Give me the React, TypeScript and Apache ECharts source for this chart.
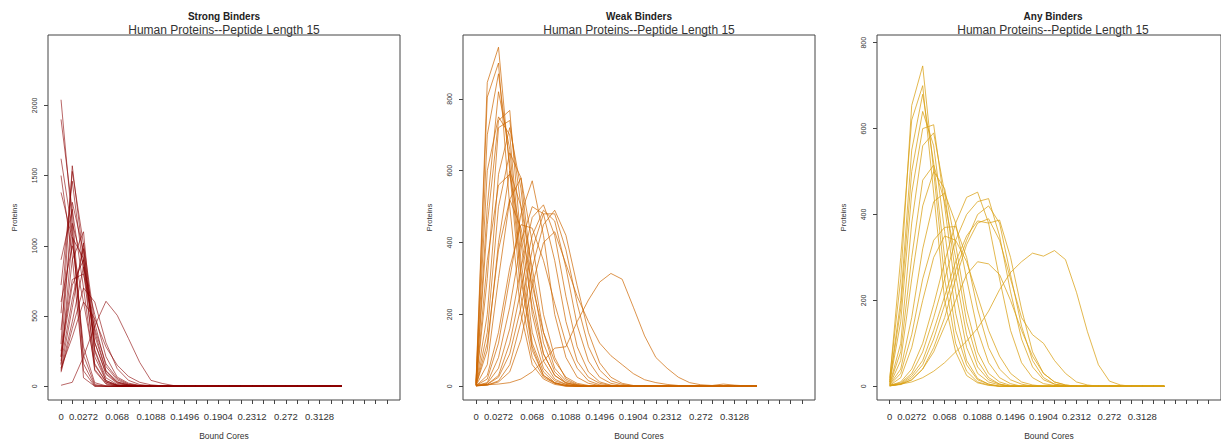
import React, { useEffect, useRef } from "react";
import * as echarts from "echarts";

// x axis: index positions of ticks and of labelled ticks (step 0.0136 per tick)
const X_TICKS = [0,1,2,3,4,5,6,7,8,9,10,11,12,13,14,15,16,17,18,19,20,21,22,23,24,25,26,27,28,29];
const X_LABEL_POS = [0, 2, 5, 8, 11, 14, 17, 20, 23];
const X_LABELS = ["0", "0.0272", "0.068", "0.1088", "0.1496", "0.1904", "0.2312", "0.272", "0.3128"];

const STRONG_Y_TICKS = [0, 500, 1000, 1500, 2000];
const WEAK_Y_TICKS = [0, 200, 400, 600, 800];
const ANY_Y_TICKS = [0, 200, 400, 600, 800];

const STRONG = [
  [2040,1150,60,0,0,0,0,0,0,0,0,0,0,0,0,0,0,0,0,0,0,0,0,0,0,0],
  [1900,1250,160,5,0,0,0,0,0,0,0,0,0,0,0,0,0,0,0,0,0,0,0,0,0,0],
  [1620,1100,220,12,0,0,0,0,0,0,0,0,0,0,0,0,0,0,0,0,0,0,0,0,0,0],
  [1500,920,110,0,0,0,0,0,0,0,0,0,0,0,0,0,0,0,0,0,0,0,0,0,0,0],
  [1380,1050,280,25,3,0,0,0,0,0,0,0,0,0,0,0,0,0,0,0,0,0,0,0,0,0],
  [300,1570,900,120,20,4,0,0,0,0,0,0,0,0,0,0,0,0,0,0,0,0,0,0,0,0],
  [520,1530,1010,210,40,8,0,0,0,0,0,0,0,0,0,0,0,0,0,0,0,0,0,0,0,0],
  [720,1460,820,160,30,5,0,0,0,0,0,0,0,0,0,0,0,0,0,0,0,0,0,0,0,0],
  [210,1310,960,260,60,12,3,0,0,0,0,0,0,0,0,0,0,0,0,0,0,0,0,0,0,0],
  [900,1260,700,110,15,0,0,0,0,0,0,0,0,0,0,0,0,0,0,0,0,0,0,0,0,0],
  [400,1160,860,310,85,20,5,0,0,0,0,0,0,0,0,0,0,0,0,0,0,0,0,0,0,0],
  [150,1060,910,360,110,30,10,2,0,0,0,0,0,0,0,0,0,0,0,0,0,0,0,0,0,0],
  [600,1000,600,150,30,6,0,0,0,0,0,0,0,0,0,0,0,0,0,0,0,0,0,0,0,0],
  [120,560,1020,450,140,45,12,3,0,0,0,0,0,0,0,0,0,0,0,0,0,0,0,0,0,0],
  [160,620,980,390,110,32,8,0,0,0,0,0,0,0,0,0,0,0,0,0,0,0,0,0,0,0],
  [210,720,900,310,95,25,6,0,0,0,0,0,0,0,0,0,0,0,0,0,0,0,0,0,0,0],
  [110,460,850,510,210,65,22,6,0,0,0,0,0,0,0,0,0,0,0,0,0,0,0,0,0,0],
  [250,760,800,410,160,55,16,4,0,0,0,0,0,0,0,0,0,0,0,0,0,0,0,0,0,0],
  [100,410,700,600,310,125,42,12,3,0,0,0,0,0,0,0,0,0,0,0,0,0,0,0,0,0],
  [180,900,1100,250,40,8,0,0,0,0,0,0,0,0,0,0,0,0,0,0,0,0,0,0,0,0],
  [130,350,600,480,280,150,70,28,10,3,0,0,0,0,0,0,0,0,0,0,0,0,0,0,0,0],
  [7,28,210,430,605,505,340,170,42,20,5,2,0,0,0,0,0,0,3,5,2,0,0,0,0,0],
];

const WEAK = [
  [15,846,944,600,250,80,25,8,2,0,0,0,0,0,0,0,0,0,0,0,0,0,0,0,0,0],
  [10,805,900,500,200,60,20,5,0,0,0,0,0,0,0,0,0,0,0,0,0,0,0,0,0,0],
  [8,700,870,620,300,100,30,10,2,0,0,0,0,0,0,0,0,0,0,0,0,0,0,0,0,0],
  [5,450,740,768,400,150,50,15,5,0,0,0,0,0,0,0,0,0,0,0,0,0,0,0,0,0],
  [5,300,720,740,500,200,70,20,5,0,0,0,0,0,0,0,0,0,0,0,0,0,0,0,0,0],
  [10,600,750,700,350,120,40,10,2,0,0,0,0,0,0,0,0,0,0,0,0,0,0,0,0,0],
  [5,200,590,720,550,250,90,30,10,2,0,0,0,0,0,0,0,0,0,0,0,0,0,0,0,0],
  [3,150,500,650,580,300,120,40,10,3,0,0,0,0,0,0,0,0,0,0,0,0,0,0,0,0],
  [3,100,400,600,500,330,150,50,15,4,0,0,0,0,0,0,0,0,0,0,0,0,0,0,0,0],
  [2,60,300,520,580,400,200,80,20,5,0,0,0,0,0,0,0,0,0,0,0,0,0,0,0,0],
  [2,20,120,300,480,572,420,200,80,25,8,2,0,0,0,0,0,0,0,0,0,0,0,0,0,0],
  [2,10,80,220,400,500,480,350,180,70,25,8,2,0,0,0,0,0,0,0,0,0,0,0,0,0],
  [1,8,50,160,330,470,505,420,250,110,40,12,3,0,0,0,0,0,0,0,0,0,0,0,0,0],
  [1,5,30,120,270,420,490,460,330,170,70,25,8,2,0,0,0,0,0,0,0,0,0,0,0,0],
  [1,5,25,90,220,380,480,480,380,230,110,45,15,5,1,0,0,0,0,0,0,0,0,0,0,0],
  [1,3,15,60,180,330,450,490,420,280,150,65,25,8,2,0,0,0,0,0,0,0,0,0,0,0],
  [1,3,12,40,130,280,400,430,340,250,180,120,85,60,35,18,10,5,2,0,0,0,0,0,0,0],
  [3,4,6,10,20,40,70,106,110,180,240,290,314,298,220,140,80,50,25,10,4,2,6,3,1,0],
  [4,350,560,590,420,220,90,30,8,2,0,0,0,0,0,0,0,0,0,0,0,0,0,0,0,0],
  [2,120,380,520,440,280,150,70,25,8,2,0,0,0,0,0,0,0,0,0,0,0,0,0,0,0],
  [1,30,150,330,450,440,350,230,120,50,15,4,0,0,0,0,0,0,0,0,0,0,0,0,0,0],
  [2,500,820,660,320,110,30,8,0,0,0,0,0,0,0,0,0,0,0,0,0,0,0,0,0,0],
];

const ANY = [
  [20,250,654,746,500,250,100,35,10,3,0,0,0,0,0,0,0,0,0,0,0,0,0,0,0,0],
  [15,300,620,700,450,200,80,25,8,2,0,0,0,0,0,0,0,0,0,0,0,0,0,0,0,0],
  [10,200,550,680,520,300,130,50,15,5,0,0,0,0,0,0,0,0,0,0,0,0,0,0,0,0],
  [8,150,450,600,609,420,220,90,30,10,3,0,0,0,0,0,0,0,0,0,0,0,0,0,0,0],
  [5,100,380,560,590,450,260,120,45,15,5,0,0,0,0,0,0,0,0,0,0,0,0,0,0,0],
  [5,80,300,480,515,430,300,150,60,20,5,0,0,0,0,0,0,0,0,0,0,0,0,0,0,0],
  [3,60,250,420,500,460,330,180,80,30,10,2,0,0,0,0,0,0,0,0,0,0,0,0,0,0],
  [3,30,120,250,340,370,372,300,180,90,40,15,5,0,0,0,0,0,0,0,0,0,0,0,0,0],
  [2,20,90,200,300,350,340,290,210,130,70,30,10,3,0,0,0,0,0,0,0,0,0,0,0,0],
  [2,10,40,100,190,290,380,440,452,380,250,130,55,20,6,2,0,0,0,0,0,0,0,0,0,0],
  [2,8,30,80,160,250,340,400,430,437,350,220,110,45,15,5,1,0,0,0,0,0,0,0,0,0],
  [1,6,25,60,130,210,290,350,385,380,387,300,180,80,30,10,3,0,0,0,0,0,0,0,0,0],
  [1,5,20,50,110,190,270,340,400,420,380,260,140,60,20,5,1,0,0,0,0,0,0,0,0,0],
  [1,4,15,40,90,160,250,330,380,390,340,250,160,120,100,60,30,10,3,0,0,0,0,0,0,0],
  [1,5,15,40,80,140,200,260,290,285,260,200,130,70,30,10,3,0,0,0,0,0,0,0,0,0],
  [2,5,10,20,35,55,80,105,135,175,225,265,290,310,303,316,295,219,127,50,12,3,0,0,0,0],
  [10,180,500,640,560,360,170,60,18,5,0,0,0,0,0,0,0,0,0,0,0,0,0,0,0,0],
  [4,40,160,320,430,450,380,250,130,55,20,6,0,0,0,0,0,0,0,0,0,0,0,0,0,0],
];

const TITLES = ["Strong Binders", "Weak Binders", "Any Binders"];
const SUBTITLE = "Human Proteins--Peptide Length 15";
const X_NAME = "Bound Cores";
const Y_NAME = "Proteins";

const FONT = "'Liberation Sans', Arial, sans-serif";

const PANELS = [
  { title: TITLES[0], lines: STRONG, color: "rgba(139,0,0,0.6)", left: 48, yMin: -98, yMax: 2501, yTicks: STRONG_Y_TICKS },
  { title: TITLES[1], lines: WEAK, color: "rgba(205,102,0,0.7)", left: 463, yMin: -38.4, yMax: 978, yTicks: WEAK_Y_TICKS },
  { title: TITLES[2], lines: ANY, color: "rgba(218,160,20,0.75)", left: 877, yMin: -32, yMax: 818, yTicks: ANY_Y_TICKS },
];

const BOX_TOP = 35;
const BOX_W = 352;
const BOX_H = 371;

export default function App() {
  const ref = useRef<HTMLDivElement>(null);
  useEffect(() => {
    document.body.style.margin = "0";
    const chart = echarts.init(ref.current!, null, { renderer: "svg" });
    const grid: any[] = [];
    const xAxis: any[] = [];
    const yAxis: any[] = [];
    const series: any[] = [];
    const graphic: any[] = [];
    PANELS.forEach((p, k) => {
      grid.push({
        left: p.left, top: BOX_TOP, width: BOX_W, height: BOX_H,
        show: true, borderColor: "#444", borderWidth: 1, backgroundColor: "transparent",
      });
      xAxis.push({
        gridIndex: k, type: "value", min: -1.16, max: 30.16,
        axisLine: { show: false, onZero: false },
        splitLine: { show: false },
        axisTick: { show: true, length: 4, customValues: X_TICKS, lineStyle: { color: "#444" } },
        axisLabel: {
          customValues: X_LABEL_POS,
          formatter: (v: number) => {
            const i = X_LABEL_POS.indexOf(Math.round(v));
            return i >= 0 ? X_LABELS[i] : "";
          },
          fontSize: 9.5, color: "#333", margin: 11, fontFamily: FONT,
        },
        name: X_NAME, nameLocation: "middle", nameGap: 31,
        nameTextStyle: { fontSize: 8.5, color: "#333", fontFamily: FONT },
      });
      yAxis.push({
        gridIndex: k, type: "value", min: p.yMin, max: p.yMax,
        axisLine: { show: false, onZero: false },
        splitLine: { show: false },
        axisTick: { show: true, length: 4, customValues: p.yTicks, lineStyle: { color: "#444" } },
        axisLabel: {
          customValues: p.yTicks, rotate: 90,
          formatter: (v: number) => String(Math.round(v)),
          fontSize: 7, color: "#333", margin: 10, fontFamily: FONT,
        },
        name: Y_NAME, nameLocation: "middle", nameGap: 30, nameRotate: 90,
        nameTextStyle: { fontSize: 7.5, color: "#333", fontFamily: FONT },
      });
      p.lines.forEach((arr) => {
        series.push({
          type: "line", xAxisIndex: k, yAxisIndex: k,
          data: arr.map((v, i) => [i, v]),
          showSymbol: false, symbol: "none", silent: true,
          lineStyle: { width: 1, color: p.color },
        });
      });
      const cx = p.left + BOX_W / 2;
      graphic.push({
        type: "text", x: cx, y: 16,
        style: { text: p.title, font: `bold 10px ${FONT}`, fill: "#222", textAlign: "center", textVerticalAlign: "middle" },
      });
      graphic.push({
        type: "text", x: cx, y: 30,
        style: { text: SUBTITLE, font: `12px ${FONT}`, fill: "#333", textAlign: "center", textVerticalAlign: "middle" },
      });
    });
    chart.setOption({
      animation: false,
      backgroundColor: "#fff",
      grid, xAxis, yAxis, series, graphic,
    });
    return () => chart.dispose();
  }, []);
  return <div ref={ref} style={{ width: 1221, height: 445 }} />;
}
